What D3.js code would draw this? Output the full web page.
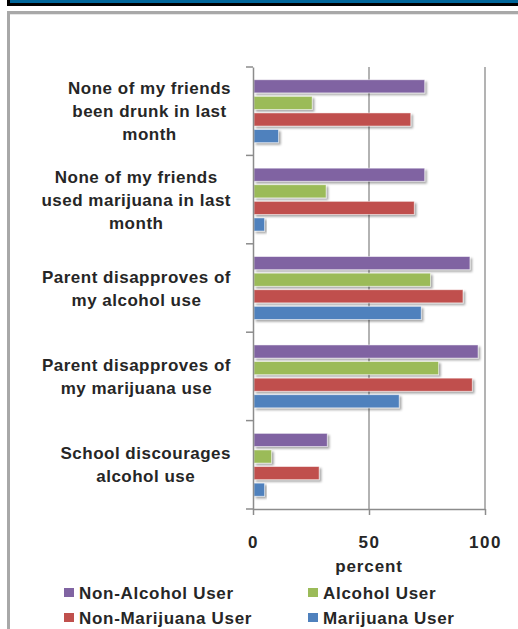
<!DOCTYPE html>
<html>
<head>
<meta charset="utf-8">
<script src="https://cdn.jsdelivr.net/npm/d3@7"></script>
<style>
  body { margin: 0; background: #fff; }
  text { font-family: "Liberation Sans", Arial, sans-serif; font-weight: bold; fill: #262626; }
</style>
</head>
<body>
<div id="chart"></div>
<script>
// categories, top to bottom (each label split into its lines)
const categories = [
  ['None of my friends', 'been drunk in last', 'month'],
  ['None of my friends', 'used marijuana in last', 'month'],
  ['Parent disapproves of', 'my alcohol use'],
  ['Parent disapproves of', 'my marijuana use'],
  ['School discourages', 'alcohol use']
];
const seriesNames = ['Non-Alcohol User', 'Alcohol User', 'Non-Marijuana User', 'Marijuana User'];
const seriesColors = ['#8064A2', '#9BBB59', '#C0504D', '#4F81BD'];

const nonAlcohol = [74, 74, 93.5, 97, 32];
const alcohol = [25.5, 31.5, 76.5, 80, 8];
const nonMarijuana = [68, 69.5, 90.5, 94.5, 28.5];
const marijuana = [11, 5, 72.5, 63, 5];

const xTicks = [0, 50, 100];

const series = [nonAlcohol, alcohol, nonMarijuana, marijuana];

const W = 518, H = 629;
const svg = d3.select('#chart').append('svg').attr('width', W).attr('height', H);

// header strip and frame
svg.append('rect').attr('x', 7).attr('y', 0).attr('width', W).attr('height', 6).attr('fill', '#000');
svg.append('rect').attr('x', 10).attr('y', 0).attr('width', W).attr('height', 3).attr('fill', '#00669A');
svg.append('rect').attr('x', 8.5).attr('y', 12.5).attr('width', 600).attr('height', 700)
  .attr('fill', '#fff').attr('stroke', '#a8a8a8').attr('stroke-width', 3);
svg.append('line').attr('x1', 10).attr('x2', W).attr('y1', 14.5).attr('y2', 14.5).attr('stroke', '#e6e6e6');

const defs = svg.append('defs');
const f = defs.append('filter').attr('id', 'shadow').attr('x', '-10%').attr('y', '-30%').attr('width', '130%').attr('height', '180%');
f.append('feDropShadow').attr('dx', 2).attr('dy', 2).attr('stdDeviation', 1.2)
  .attr('flood-color', '#000').attr('flood-opacity', 0.35);

const x = d3.scaleLinear().domain([0, 100]).range([253, 485]);
const y = d3.scaleBand().domain(d3.range(categories.length)).range([67, 509]);
const inner = d3.scaleBand().domain(d3.range(series.length)).range([0, y.bandwidth()])
  .paddingInner(0.21).paddingOuter(0.77);

// gridlines
svg.append('g').selectAll('line').data(xTicks.slice(1)).join('line')
  .attr('x1', d => x(d)).attr('x2', d => x(d))
  .attr('y1', y.range()[0]).attr('y2', y.range()[1])
  .attr('stroke', '#b3b3b3').attr('stroke-width', 2);

// bars
const groups = svg.append('g').selectAll('g').data(categories).join('g')
  .attr('transform', (d, i) => `translate(0,${y(i)})`);
groups.selectAll('rect').data((d, i) => series.map((s, j) => ({ v: s[i], j })))
  .join('rect')
  .attr('x', x(0) + 1)
  .attr('y', d => inner(d.j))
  .attr('width', d => x(d.v) - x(0) - 1)
  .attr('height', inner.bandwidth())
  .attr('fill', d => seriesColors[d.j])
  .attr('stroke', '#fff').attr('stroke-opacity', 0.6).attr('stroke-width', 0.8)
  .attr('filter', 'url(#shadow)');

// axes
const yAxis = svg.append('g').attr('transform', `translate(${x(0)},0)`)
  .call(d3.axisLeft(y).tickValues([]).tickSizeOuter(0));
yAxis.selectAll('.tick-c').data(d3.range(categories.length + 1)).join('line')
  .attr('x1', -7).attr('x2', 0)
  .attr('y1', d => d < categories.length ? y(d) : y.range()[1])
  .attr('y2', d => d < categories.length ? y(d) : y.range()[1])
  .attr('stroke', '#8c8c8c').attr('stroke-width', 1.5);
yAxis.select('.domain').attr('stroke', '#8c8c8c').attr('stroke-width', 1.5);

const xAxis = svg.append('g').attr('transform', `translate(0,${y.range()[1]})`)
  .call(d3.axisBottom(x).tickValues(xTicks).tickSize(6).tickSizeOuter(0).tickPadding(21));
xAxis.select('.domain').attr('stroke', '#8c8c8c').attr('stroke-width', 1.5);
xAxis.selectAll('.tick line').attr('stroke', '#8c8c8c').attr('stroke-width', 1.5);
xAxis.selectAll('.tick text').style('font-family', '"Liberation Sans", Arial, sans-serif')
  .style('font-weight', 'bold').style('font-size', '17px').style('letter-spacing', '1.5px')
  .attr('fill', '#262626');

svg.append('text').attr('x', x(50)).attr('y', 572).attr('text-anchor', 'middle')
  .style('font-size', '17px').style('letter-spacing', '0.9px').text('percent');

// category labels: lines centred within a right-aligned block
const labels = svg.append('g').selectAll('text').data(categories).join('text')
  .style('font-size', '17px').style('letter-spacing', '0.5px').attr('text-anchor', 'middle');
labels.each(function (lines, i) {
  const t = d3.select(this);
  const lh = 23;
  const y0 = y(i) + y.bandwidth() / 2 - (lines.length - 1) * lh / 2 + 6;
  lines.forEach((l, k) => t.append('tspan').attr('y', y0 + k * lh).text(l));
  const w = d3.max(t.selectAll('tspan').nodes(), n => n.getComputedTextLength());
  t.selectAll('tspan').attr('x', 231 - w / 2);
});

// legend
const legend = svg.append('g').selectAll('g').data(seriesNames).join('g')
  .attr('transform', (d, i) => `translate(${i % 2 ? 308 : 64},${i < 2 ? 588 : 613})`);
legend.append('rect').attr('width', 10).attr('height', 9).attr('fill', (d, i) => seriesColors[i]);
legend.append('text').attr('x', 15).attr('y', 11).style('font-size', '17px')
  .style('letter-spacing', '0.7px').text(d => d);
</script>
</body>
</html>
